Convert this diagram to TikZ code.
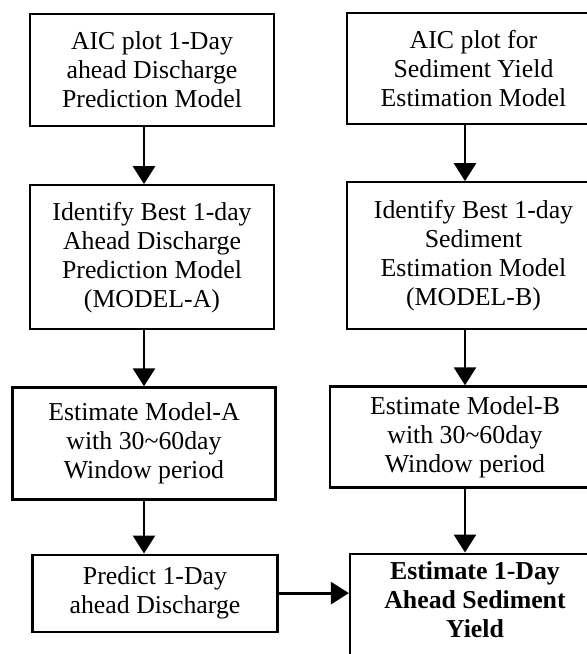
\documentclass[tikz,border=0pt]{standalone}
\usepackage{fontspec}
\setmainfont{Liberation Serif}
\usetikzlibrary{positioning,arrows.meta}

\begin{document}
\begin{tikzpicture}[node distance=28pt,every node/.style={font=\fontsize{12.9}{14.5}\selectfont},box/.style={draw,line width=1.1pt,align=center,inner sep=0pt,minimum width=122pt,minimum height=56pt}]
    \useasboundingbox[fill=white] (0,0) rectangle (293.5pt,-327pt);
    \node[box] (pa) at (76pt,-35pt) {AIC plot 1-Day\\ ahead Discharge\\ Prediction Model};
    \node[box,minimum height=72pt,below=28.5pt of pa] (pb) {Identify Best 1-day\\ Ahead Discharge\\ Prediction Model\\ (MODEL-A)};
    \node[box,minimum width=131.5pt,below=of pb,xshift=-4pt] (pc) {Estimate Model-A\\ with 30\textasciitilde60day\\ Window period};
    \node[box,minimum width=122.5pt,minimum height=38.5pt,below=26.5pt of pc,xshift=5.5pt] (pd) {Predict 1-Day\\ ahead Discharge};
    \node[box,minimum width=126.5pt,minimum height=55.5pt] (sa) at (236.75pt,-34.25pt) {AIC plot for\\ Sediment Yield\\ Estimation Model};
    \node[box,minimum width=126.5pt,minimum height=73.5pt,below=of sa] (sb) {Identify Best 1-day\\ Sediment\\ Estimation Model\\ (MODEL-B)};
    \node[box,minimum width=135pt,minimum height=50.5pt,below=27.5pt of sb,xshift=-4.25pt] (sc) {Estimate Model-B\\ with 30\textasciitilde60day\\ Window period};
    \node[box,minimum width=125pt,minimum height=56.5pt,below=32pt of sc,xshift=5pt,font=\bfseries\fontsize{12.9}{14.5}\selectfont] (sd) {Estimate 1-Day\\ Ahead Sediment\\ Yield\\[-4pt]\mbox{}};
    \draw[-{Triangle[width=11pt,length=9pt]},line width=1.4pt] (pa.south -| pc) -- (pb.north -| pc);
    \draw[-{Triangle[width=11pt,length=9pt]},line width=1.4pt] (pb.south -| pc) -- (pc.north);
    \draw[-{Triangle[width=11pt,length=9pt]},line width=1.4pt] (pc.south) -- (pd.north -| pc);
    \draw[-{Triangle[width=11pt,length=9pt]},line width=1.4pt] (sa.south -| sc) -- (sb.north -| sc);
    \draw[-{Triangle[width=11pt,length=9pt]},line width=1.4pt] (sb.south -| sc) -- (sc.north);
    \draw[-{Triangle[width=11pt,length=9pt]},line width=1.4pt] (sc.south) -- (sd.north -| sc);
    \draw[-{Triangle[width=11pt,length=9pt]},line width=1.4pt] (pd.east) -- (pd.east -| sd.west);
  \end{tikzpicture}
\end{document}
